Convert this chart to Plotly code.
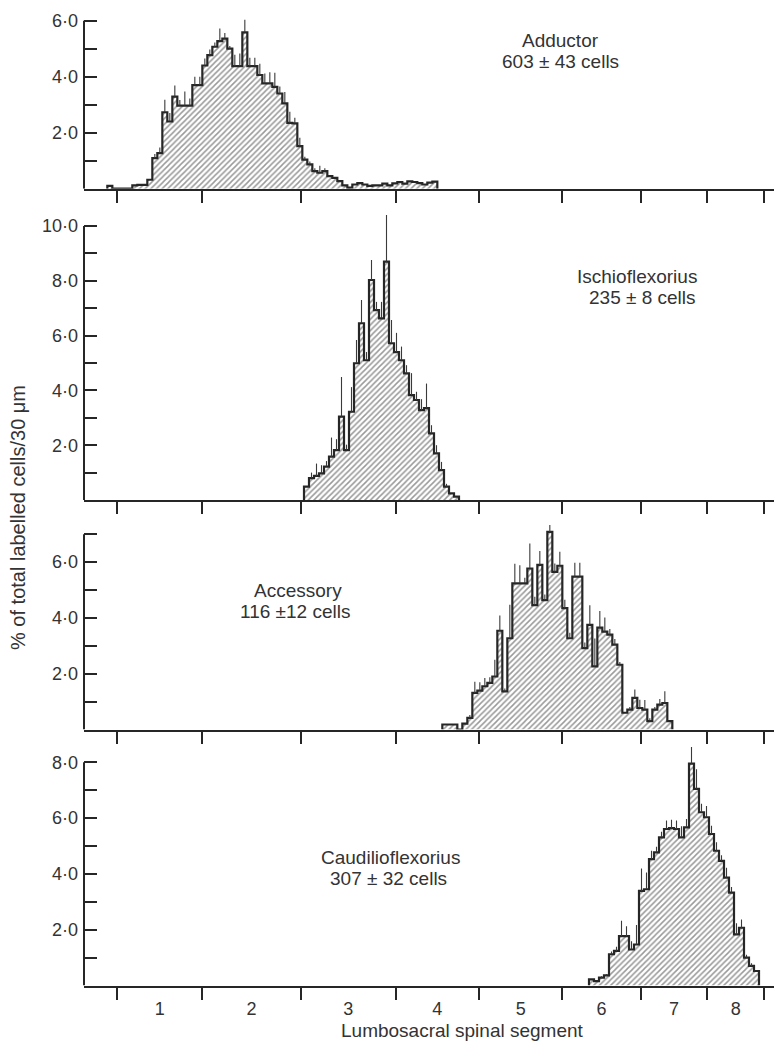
import plotly.graph_objects as go

# ---------------- data ----------------
BIN = 0.03  # mm, one 30 um section

seg_bounds = [0.20, 0.71, 1.30, 1.87, 2.37, 2.87, 3.34, 3.74, 4.08]
seg_labels = ["1", "2", "3", "4", "5", "6", "7", "8"]

adductor_start = 0.14
adductor_vals = [0.10, 0, 0, 0, 0,
                 0.12, 0.14, 0.14, 0.32, 1.09, 1.27, 2.73, 2.4, 3.29, 2.97,
                 2.97, 2.97, 3.7, 3.7, 4.4, 4.77, 5.07, 5.27, 5.36, 5.0,
                 4.38, 4.38, 5.58, 4.38, 4.38, 4.06, 3.76, 3.76, 3.64, 3.4,
                 3.05, 2.35, 2.33, 1.52, 1.04, 0.87, 0.63, 0.57, 0.63, 0.45,
                 0.39, 0.27, 0.12, 0.04, 0.15, 0.2, 0.15, 0.1, 0.12, 0.12,
                 0.18, 0.12, 0.19, 0.24, 0.18, 0.26, 0.24, 0.2, 0.15, 0.22, 0.25]
adductor_err = [0, 0, 0, 0, 0,
                0, 0, 0, 0, 0.15, 0.2, 0.45, 0.3, 0.4, 0.2,
                0.5, 0.25, 0.3, 0.3, 0.25, 0.2, 0.15, 0.45, 0.2, 0.1,
                0.4, 0.45, 0.45, 0.3, 0.3, 0.4, 0.35, 0.4, 0.5, 0.25,
                0.4, 0.4, 0.2, 0.3, 0.1, 0.1, 0.1, 0.25, 0.1, 0,
                0, 0, 0, 0, 0, 0, 0, 0, 0, 0,
                0, 0, 0, 0, 0, 0, 0, 0, 0, 0, 0]

ischio_start = 1.32
ischio_vals = [0.49, 0.8, 0.88, 0.97, 1.22, 1.58, 1.82, 3.04, 1.82, 3.22,
               4.99, 6.45, 5.1, 8.03, 6.93, 6.63, 8.7, 5.72, 5.4, 5.1,
               4.62, 3.83, 3.65, 3.28, 3.35, 2.43, 1.7, 1.09, 0.49, 0.24, 0.12]
ischio_err = [0, 0.2, 0.45, 0.3, 0.2, 0.7, 0.4, 1.45, 0.2, 0.9,
              0.85, 0.85, 0.3, 0.73, 0.3, 0.6, 1.7, 0.85, 0.7, 0.5,
              0.3, 0.8, 0.3, 0.4, 0.9, 0.3, 0.3, 0.3, 0.1, 0, 0]

access_start = 2.15
access_vals = [0.18, 0.18, 0.18, 0,
               0.21, 0.42, 1.31, 1.39, 1.55, 1.67, 1.9, 3.54, 1.37, 3.27,
               5.24, 5.24, 5.24, 5.77, 4.46, 5.9, 4.64, 7.08, 5.65, 5.87,
               4.35, 3.27, 5.48, 5.48, 2.92, 3.75, 2.26, 3.65, 3.51, 3.4,
               3.04, 2.32, 0.6, 0.71, 1.13, 0.77, 0.71, 0.3, 0.71, 0.89,
               0.95, 0.3]
access_err = [0, 0, 0, 0,
              0, 0.1, 0.4, 0.3, 0.3, 0.2, 0.6, 0.55, 0.1, 1.2,
              0.7, 0.65, 0.2, 0.9, 0.3, 0.5, 0.2, 0.25, 0.3, 0.5,
              0.3, 0.2, 0.5, 0.5, 0.2, 0.7, 1.0, 0.6, 0.5, 0.2,
              0.2, 0.1, 0, 0.1, 0.3, 0.3, 0.35, 0.1, 0.1, 0.2,
              0.42, 0]

caud_start = 3.03
caud_vals = [0.22, 0.16, 0.28, 0.36, 1.12, 1.24, 1.77, 1.77, 1.29, 1.47,
             3.39, 3.45, 4.53, 4.77, 5.31, 5.61, 5.64, 5.61, 5.31, 5.67,
             7.95, 7.05, 6.21, 6.03, 5.43, 4.83, 4.47, 3.87, 3.33, 1.83,
             2.07, 1.0, 0.7, 0.52]
caud_err = [0, 0, 0.05, 0.05, 0.1, 0.15, 0.55, 0.35, 0.3, 0.7,
            0.8, 0.6, 0.3, 0.2, 0.2, 0.3, 0.3, 0.3, 0.4, 0.3,
            0.6, 0.7, 0.3, 0.4, 0.3, 0.3, 0.2, 0.35, 0.2, 0.4,
            0.3, 0.1, 0.1, 0]

muscle_names = ["Adductor", "Ischioflexorius", "Accessory", "Caudilioflexorius"]
cell_counts = ["603 ± 43 cells", "235 ± 8 cells", "116 ±12 cells", "307 ± 32 cells"]

y_tick_tops = [6, 10, 7, 8]

# ---------------- layout constants ----------------
PAGE = 8                 # default body margin of the html page
W, H = 782 - PAGE, 1045 - PAGE
AXIS_X = 84              # y-axis position in window pixels
L = AXIS_X - PAGE
PLOT_W = W - L
PX_PER_MM = 5 / BIN
XMAX = PLOT_W / PX_PER_MM

INK = "#262626"
TXT = "#333333"
FONT = "Liberation Sans"

# baseline (window px), px per unit, y range top
panel_geom = [(188.7, 28.0, 6.3), (500.0, 27.4, 10.6), (729.5, 27.9, 7.4), (985.5, 27.9, 8.7)]
label_pos = [((560, 41), (560, 62)), ((637, 277), (642, 297)),
             ((298, 590), (295, 611)), ((390, 857), (388, 878))]

series = [(adductor_start, adductor_vals, adductor_err),
          (ischio_start, ischio_vals, ischio_err),
          (access_start, access_vals, access_err),
          (caud_start, caud_vals, caud_err)]

mids = [(a + b) / 2 for a, b in zip(seg_bounds[:-1], seg_bounds[1:])]


def py(p):
    return 1 - (p - PAGE) / H


def px(p):
    return (p - AXIS_X) / PLOT_W


fig = go.Figure()
shapes = []
annotations = []

for i, ((start, vals, err), (base, scale, ytop), top_tick) in enumerate(
        zip(series, panel_geom, y_tick_tops), start=1):
    n = len(vals)
    xs = [start] + [start + k * BIN for k in range(n)] + [start + n * BIN]
    ys = [0] + list(vals) + [0]
    xa = "x" if i == 1 else f"x{i}"
    ya = "y" if i == 1 else f"y{i}"
    fig.add_trace(go.Scatter(
        x=xs, y=ys, mode="lines", xaxis=xa, yaxis=ya,
        line=dict(shape="hv", color=INK, width=2.2),
        fill="tozeroy",
        fillpattern=dict(shape="/", size=4, solidity=0.38, fgcolor="#333333", bgcolor="white"),
        hoverinfo="skip"))
    centers = [start + (k + 0.5) * BIN for k in range(n)]
    fig.add_trace(go.Scatter(
        x=centers, y=vals, mode="markers", xaxis=xa, yaxis=ya,
        marker=dict(size=1, color="rgba(0,0,0,0)"),
        error_y=dict(type="data", array=err, arrayminus=[0] * n, symmetric=False,
                     width=0, thickness=1.1, color="#3a3a3a"),
        hoverinfo="skip"))

    d0 = py(base)
    d1 = py(base - ytop * scale)
    yt = list(range(1, top_tick + 1))
    ytext = [f"{v}·0" if v % 2 == 0 else "" for v in yt]
    key = "" if i == 1 else str(i)
    fig.layout["xaxis" + key] = dict(
        domain=[0, 1], range=[0, XMAX], anchor=ya, showgrid=False, zeroline=False,
        showline=True, linecolor=INK, linewidth=2,
        tickmode="array", tickvals=mids, ticktext=seg_labels, ticks="",
        showticklabels=(i == 4), ticklabelstandoff=6,
        tickfont=dict(family=FONT, size=18, color=TXT),
        minor=dict(tickmode="array", tickvals=seg_bounds, ticks="outside",
                   ticklen=12, tickwidth=2, tickcolor=INK, showgrid=False),
        fixedrange=True)
    fig.layout["yaxis" + key] = dict(
        domain=[d0, d1], range=[0, ytop], anchor=xa, showgrid=False, zeroline=False,
        showline=False, tickmode="array", tickvals=yt, ticktext=ytext,
        ticks="inside", ticklen=13, tickwidth=2, tickcolor=INK, ticklabelstandoff=5,
        tickfont=dict(family=FONT, size=18, color=TXT), fixedrange=True)
    shapes.append(dict(type="line", xref="paper", yref=ya, x0=0, x1=0, y0=0, y1=top_tick,
                       line=dict(color=INK, width=2), layer="above"))
    (x1p, y1p), (x2p, y2p) = label_pos[i - 1]
    annotations.append(dict(text=muscle_names[i - 1], xref="paper", yref="paper",
                            x=px(x1p), y=py(y1p), showarrow=False, xanchor="center", yanchor="middle",
                            font=dict(family=FONT, size=19, color=TXT)))
    annotations.append(dict(text=cell_counts[i - 1], xref="paper", yref="paper",
                            x=px(x2p), y=py(y2p), showarrow=False, xanchor="center", yanchor="middle",
                            font=dict(family=FONT, size=19, color=TXT)))

annotations.append(dict(text="% of total labelled cells/30 μm", xref="paper", yref="paper",
                        x=px(18), y=py(518), showarrow=False, textangle=-90,
                        xanchor="center", yanchor="middle",
                        font=dict(family=FONT, size=20, color=TXT)))
annotations.append(dict(text="Lumbosacral spinal segment", xref="paper", yref="paper",
                        x=px(462), y=py(1030), showarrow=False,
                        xanchor="center", yanchor="middle",
                        font=dict(family=FONT, size=19, color=TXT)))

fig.update_layout(width=W, height=H, margin=dict(l=L, r=0, t=0, b=0),
                  plot_bgcolor="white", paper_bgcolor="white", showlegend=False,
                  shapes=shapes, annotations=annotations)

fig.write_html("out.html")
